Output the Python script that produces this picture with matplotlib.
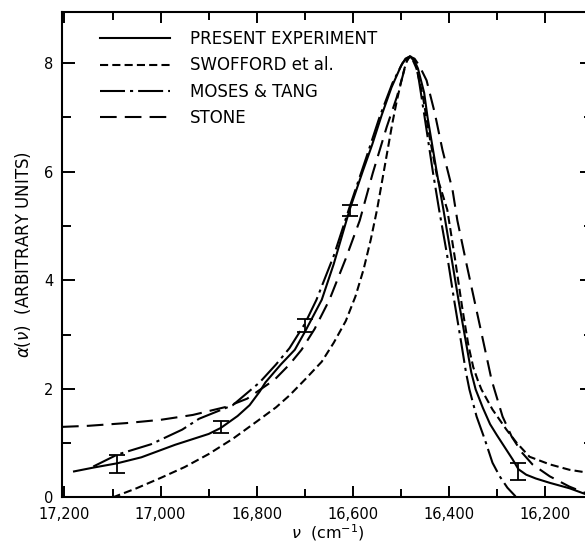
import numpy as np
import matplotlib
matplotlib.use("Agg")
import matplotlib.pyplot as plt

## Data (nu in cm-1, alpha in arbitrary units)

nu_present = [17180, 17140, 17090, 17040, 16970, 16900, 16875, 16840, 16815, 16794, 16782,
              16750, 16721, 16700, 16665, 16640, 16607, 16580, 16560, 16540, 16520, 16500,
              16491, 16482, 16473, 16465, 16452, 16445, 16426, 16412, 16395, 16380, 16365,
              16354, 16345, 16330, 16315, 16301, 16290, 16279, 16268, 16256, 16240, 16220,
              16191, 16150, 16119]
alpha_present = [0.48, 0.55, 0.63, 0.74, 0.97, 1.17, 1.28, 1.50, 1.70, 1.95, 2.12,
                 2.45, 2.72, 3.05, 3.64, 4.3, 5.3, 6.0, 6.5, 7.05, 7.55, 7.95,
                 8.08, 8.12, 8.06, 7.9, 7.45, 7.0, 6.0, 5.3, 4.4, 3.6, 2.85,
                 2.3, 1.99, 1.65, 1.35, 1.15, 1.0, 0.85, 0.7, 0.52, 0.42, 0.35,
                 0.27, 0.17, 0.07]

nu_swofford = [17100, 17050, 17000, 16950, 16900, 16850, 16800, 16760, 16732, 16700,
               16665, 16640, 16615, 16595, 16578, 16563, 16550, 16538, 16528, 16518,
               16509, 16500, 16493, 16487, 16482, 16476, 16468, 16455, 16440, 16425,
               16404, 16388, 16373, 16360, 16350, 16341, 16333, 16310, 16281, 16260,
               16233, 16191, 16150, 16100]
alpha_swofford = [0.0, 0.17, 0.36, 0.56, 0.8, 1.08, 1.4, 1.66, 1.88, 2.17,
                  2.5, 2.85, 3.25, 3.7, 4.2, 4.75, 5.3, 5.9, 6.4, 6.9,
                  7.3, 7.65, 7.9, 8.06, 8.12, 8.06, 7.9, 7.4, 6.6, 5.9,
                  5.3, 4.4, 3.5, 2.8, 2.4, 2.17, 1.99, 1.62, 1.25, 1.01,
                  0.75, 0.61, 0.51, 0.44]

nu_moses = [17140, 17090, 17020, 16955, 16920, 16850, 16794, 16760, 16732, 16700,
            16676, 16640, 16607, 16572, 16545, 16518, 16497, 16488, 16480, 16472,
            16465, 16451, 16434, 16421, 16405, 16390, 16375, 16365, 16358, 16343,
            16326, 16310, 16295, 16279, 16262]
alpha_moses = [0.57, 0.79, 0.98, 1.25, 1.45, 1.7, 2.12, 2.45, 2.75, 3.2,
               3.64, 4.45, 5.35, 6.27, 7.0, 7.63, 8.0, 8.09, 8.12, 8.02,
               7.8, 7.0, 6.0, 5.3, 4.5, 3.65, 2.85, 2.3, 1.99, 1.49,
               1.07, 0.64, 0.39, 0.18, 0.02]

nu_stone = [17205, 17150, 17071, 17000, 16933, 16863, 16820, 16794, 16763, 16732,
            16707, 16680, 16649, 16615, 16586, 16559, 16530, 16509, 16497, 16489,
            16482, 16472, 16462, 16447, 16430, 16414, 16393, 16383, 16364, 16342,
            16320, 16312, 16306, 16289, 16270, 16249, 16227, 16191, 16150, 16119,
            16100]
alpha_stone = [1.3, 1.32, 1.37, 1.43, 1.52, 1.67, 1.82, 1.98, 2.17, 2.45,
               2.72, 3.1, 3.64, 4.4, 5.1, 5.97, 6.82, 7.37, 7.75, 8.02,
               8.12, 8.08, 7.95, 7.68, 7.08, 6.4, 5.66, 5.1, 4.3, 3.4,
               2.5, 2.17, 1.99, 1.49, 1.12, 0.83, 0.61, 0.39, 0.2, 0.09,
               0.05]

# measured points with error bars
nu_err = [17090, 16875, 16700, 16607, 16256]
alpha_err = [0.62, 1.30, 3.17, 5.28, 0.48]
err = [0.17, 0.11, 0.12, 0.10, 0.15]

labels = ["PRESENT EXPERIMENT", "SWOFFORD et al.", "MOSES & TANG", "STONE"]

## Plot

plt.rcParams['font.family'] = 'DejaVu Sans'

fig = plt.figure(figsize=(5.85, 5.44), dpi=100)
ax = fig.add_axes([0.106, 0.0855, 0.9085, 0.8925])

lw = 1.5
ax.plot(nu_present, alpha_present, color='black', lw=lw, linestyle='-', label=labels[0])
ax.plot(nu_swofford, alpha_swofford, color='black', lw=lw, linestyle=(0, (3.9, 2.0)), label=labels[1])
ax.plot(nu_moses, alpha_moses, color='black', lw=lw, linestyle=(0, (12, 2.4, 1.5, 2.4)), label=labels[2])
ax.plot(nu_stone, alpha_stone, color='black', lw=lw, linestyle=(0, (8, 3.9)), label=labels[3])

ax.errorbar(nu_err, alpha_err, yerr=err, fmt='none', ecolor='black', elinewidth=1.3,
            capsize=6, capthick=1.3)

ax.set_xlim(17205, 16100)
ax.set_ylim(0, 8.94)

ax.set_xticks(np.arange(17200, 16100, -200))
ax.set_xticklabels(["17,200", "17,000", "16,800", "16,600", "16,400", "16,200"])
ax.set_xticks(np.arange(17100, 16100, -200), minor=True)
ax.set_yticks([0, 2, 4, 6, 8])
ax.set_yticks([1, 3, 5, 7], minor=True)

ax.tick_params(which='both', direction='in', top=True, right=True, width=1.4, labelsize=10.5)
ax.tick_params(axis='y', which='major', length=9.5, pad=6)
ax.tick_params(axis='y', which='minor', length=6.5)
ax.tick_params(axis='x', which='major', length=8, pad=7)
ax.tick_params(axis='x', which='minor', length=6)
for s in ax.spines.values():
    s.set_linewidth(1.5)

ax.set_ylabel(r"$\alpha(\nu)$  (ARBITRARY UNITS)", fontsize=12, labelpad=8)
ax.set_xlabel(r"$\nu$  (cm$^{-1}$)", fontsize=11.5, labelpad=0)

ax.legend(loc='upper left', frameon=False, fontsize=12, handlelength=4.2,
          handletextpad=1.2, labelspacing=0.5, borderaxespad=0.6,
          bbox_to_anchor=(0.04, 0.997))

plt.savefig("out.png", dpi=100)
